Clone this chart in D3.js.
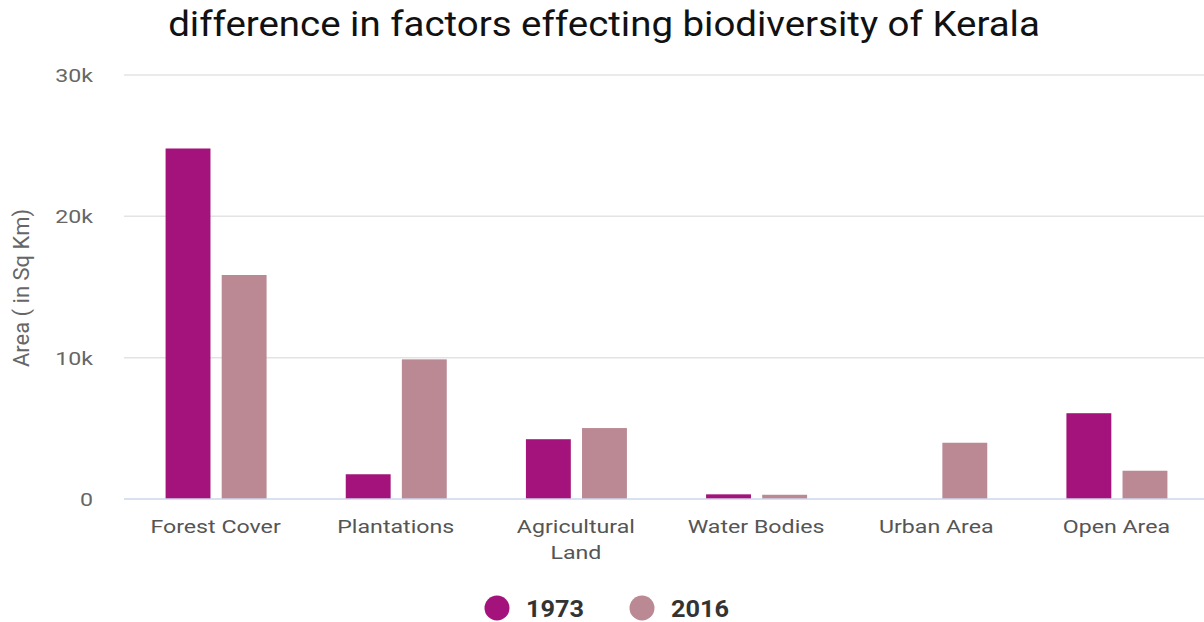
<!DOCTYPE html>
<html lang="en">
<head>
<meta charset="utf-8">
<title>Biodiversity of Kerala</title>
<script src="https://d3js.org/d3.v7.min.js"></script>
<style>
  body { margin: 0; background: #fff; }
  text { font-family: Roboto, "Noto Sans", sans-serif; }
</style>
</head>
<body>
<div id="chart"></div>
<script>
var w = 1204;
var h = 622;

var categories = ["Forest Cover", "Plantations", "Agricultural Land", "Water Bodies", "Urban Area", "Open Area"];
var seriesNames = ["1973", "2016"];
var values1973 = [24800, 1750, 4230, 330, 0, 6070];
var values2016 = [15850, 9880, 5020, 300, 3980, 2000];
var yTicks = [0, 10000, 20000, 30000];
var colors = ["#a3137b", "#ba8994"];

var plotLeft = 124, plotRight = 1204, plotTop = 75, plotBottom = 499;
var stretch = 1.22; // the picture's texts are a bit wide

var svg = d3.select("#chart").append("svg")
  .attr("width", w).attr("height", h);

var xScale = d3.scaleBand().domain(categories).range([125.5, 1206.5]);
var inner = d3.scaleBand().domain(seriesNames).range([-50, 51]).paddingInner(0.2);
var yScale = d3.scaleLinear().domain([0, 30000]).range([plotBottom, plotTop]);

// put a text at x,y and widen it sideways
function addText(x, y, str, size, anchor, sx) {
  return svg.append("text")
    .attr("transform", "translate(" + x + "," + y + ") scale(" + sx + ",1)")
    .attr("text-anchor", anchor)
    .attr("font-size", size)
    .text(str);
}

// title, widened to fit its width in the picture
var title = addText(604, 36, "difference in factors effecting biodiversity of Kerala", 35, "middle", 1)
  .attr("fill", "#111");
var tw = title.node().getComputedTextLength();
title.attr("transform", "translate(604,36) scale(" + (872 / tw) + ",1)");

// gridlines
svg.selectAll("line.grid").data(yTicks.slice(1)).enter().append("line")
  .attr("class", "grid")
  .attr("x1", plotLeft).attr("x2", plotRight)
  .attr("y1", function(d){ return yScale(d); })
  .attr("y2", function(d){ return yScale(d); })
  .attr("stroke", "#e3e3e3").attr("stroke-width", 1.5);

// y tick labels
yTicks.forEach(function(d){
  addText(93, yScale(d) + 7, d === 0 ? "0" : (d / 1000) + "k", 19, "end", stretch)
    .attr("fill", "#666");
});

// y axis title
svg.append("text")
  .attr("transform", "translate(29,288) rotate(-90)")
  .attr("text-anchor", "middle")
  .attr("font-size", 22)
  .attr("fill", "#666")
  .text("Area ( in Sq Km)");

// bars
var data = [];
categories.forEach(function(c, i){
  data.push({cat: c, s: "1973", v: values1973[i]});
  data.push({cat: c, s: "2016", v: values2016[i]});
});

svg.selectAll("rect.bar").data(data).enter().append("rect")
  .attr("class", "bar")
  .attr("x", function(d){ return xScale(d.cat) + xScale.bandwidth() / 2 + inner(d.s); })
  .attr("y", function(d){ return yScale(d.v); })
  .attr("width", inner.bandwidth())
  .attr("height", function(d){ return plotBottom - yScale(d.v); })
  .attr("fill", function(d){ return d.s === "1973" ? colors[0] : colors[1]; });

// baseline
svg.append("line")
  .attr("x1", plotLeft).attr("x2", plotRight)
  .attr("y1", plotBottom).attr("y2", plotBottom)
  .attr("stroke", "#ccd6eb").attr("stroke-width", 1.5);

// x labels
categories.forEach(function(d){
  var cx = xScale(d) + xScale.bandwidth() / 2;
  var parts = d === "Agricultural Land" ? ["Agricultural", "Land"] : [d];
  parts.forEach(function(p, j){
    addText(cx, 533 + j * 26, p, 19, "middle", stretch).attr("fill", "#555");
  });
});

// legend
var legendX = [497, 642];
seriesNames.forEach(function(s, i){
  svg.append("circle")
    .attr("cx", legendX[i]).attr("cy", 608).attr("r", 12.5)
    .attr("fill", colors[i]);
  addText(legendX[i] + 29, 617, s, 23, "start", 1.1)
    .attr("font-weight", "bold")
    .attr("fill", "#333");
});
</script>
</body>
</html>
